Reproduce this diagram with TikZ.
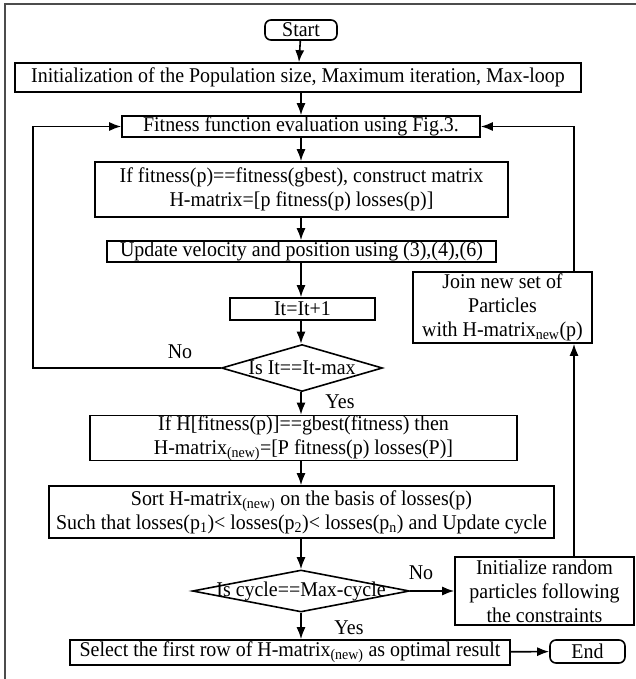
\documentclass[tikz,border=0pt]{standalone}
\usepackage{fontspec}
\setmainfont{Liberation Serif}[FakeStretch=0.95]
\usetikzlibrary{shapes.geometric,arrows.meta}
\begin{document}
\begin{tikzpicture}[x=1pt,y=-1pt,
  font=\fontsize{21}{24}\selectfont,
  box/.style={draw,line width=1.6pt,inner sep=0pt,align=center},
  term/.style={box,rounded corners=6pt},
  dia/.style={draw,line width=1.6pt,diamond,inner sep=0pt},
  arr/.style={line width=1.6pt,-{Latex[length=12pt,width=9pt]}},
  lbl/.style={inner sep=0pt}]
\useasboundingbox (0,0) rectangle (636,679);
\draw[line width=1.2pt,black!70] (5,679) -- (5,4) -- (636,4);
\node[term,minimum width=72pt,minimum height=20pt] (start) at (301,30) {Start};
\node[box,minimum width=566pt,minimum height=29pt] (init) at (298,77.5) {Initialization of the Population size, Maximum iteration, Max-loop};
\node[box,minimum width=358pt,minimum height=21pt] (fit) at (301,126.5) {Fitness function evaluation using Fig.3.};
\node[box,minimum width=413pt,minimum height=55pt] (iff) at (301.5,189.5) {If fitness(p)==fitness(gbest), construct matrix\\H-matrix=[p fitness(p) losses(p)]};
\node[box,minimum width=389pt,minimum height=21pt] (upd) at (301.5,251.5) {Update velocity and position using (3),(4),(6)};
\node[box,minimum width=145pt,minimum height=22pt] (it) at (302.5,309) {It=It+1};
\node[dia,minimum width=161pt,minimum height=47pt] (d1) at (302,368) {};
\node[lbl] (d1t) at (d1.center) {Is It==It-max};
\node[box,minimum width=427pt,minimum height=44pt] (ifh) at (303.5,438) {If H[fitness(p)]==gbest(fitness) then\\H-matrix\textsubscript{(new)}=[P fitness(p) losses(P)]};
\node[box,minimum width=505pt,minimum height=52pt] (sort) at (301.5,512) {Sort H-matrix\textsubscript{(new)} on the basis of losses(p)\\Such that losses(p\textsubscript{1})< losses(p\textsubscript{2})< losses(p\textsubscript{n}) and Update cycle};
\node[dia,minimum width=217pt,minimum height=42pt] (d2) at (301,591) {};
\node[lbl] (d2t) at (d2.center) {Is cycle==Max-cycle};
\node[box,minimum width=179pt,minimum height=68pt] (rnd) at (544.5,591) {Initialize random\\particles following\\the constraints};
\node[box,minimum width=440pt,minimum height=25pt] (sel) at (290,652.5) {Select the first row of H-matrix\textsubscript{(new)} as optimal result};
\node[term,minimum width=75pt,minimum height=23pt] (endn) at (587.5,651.5) {End};
\node[box,minimum width=179pt,minimum height=71pt] (join) at (502.5,307.5) {Join new set of\\Particles\\with H-matrix\textsubscript{new}(p)};
\coordinate (rx) at (574,0);
\coordinate (lx) at (33,0);
\node[lbl] (no1) at (180,352) {No};
\node[lbl] (yes1) at (340,402) {Yes};
\node[lbl] (no2) at (421,573) {No};
\node[lbl] (yes2) at (349,628) {Yes};
\draw[arr] (start) -- (init);
\draw[arr] (init.south -| start) -- (fit.north -| start);
\draw[arr] (fit.south -| start) -- (iff.north -| start);
\draw[arr] (iff.south -| start) -- (upd.north -| start);
\draw[arr] (upd.south -| start) -- (it.north -| start);
\draw[arr] (it.south -| start) -- (d1.north -| start);
\draw[arr] (d1.south -| start) -- (ifh.north -| start);
\draw[arr] (ifh.south -| start) -- (sort.north -| start);
\draw[arr] (sort.south -| start) -- (d2.north -| start);
\draw[arr] (d2.south -| start) -- (sel.north -| start);
\draw[arr] (sel) -- (endn);
\draw[arr] (d2.east) -- (rnd.west |- d2.east);
\draw[arr] (rnd.north -| rx) -- (join.south -| rx);
\draw[arr] (join.north -| rx) -- (fit.east -| rx) -- (fit.east);
\draw[arr] (d1.west) -- (d1.west -| lx) -- (fit.west -| lx) -- (fit.west);
\end{tikzpicture}
\end{document}
